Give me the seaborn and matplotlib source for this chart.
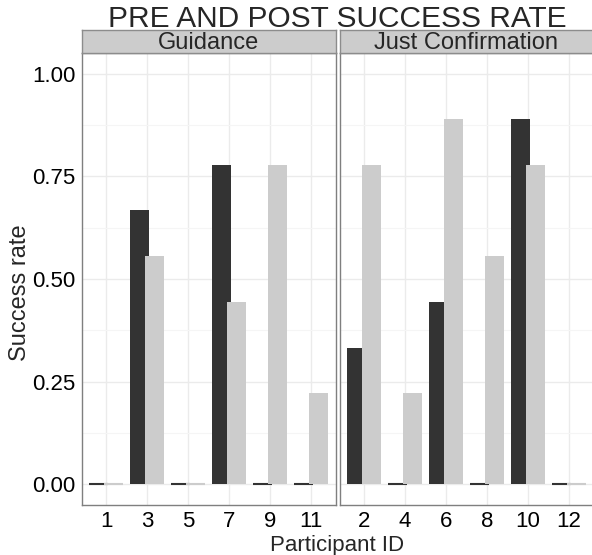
import pandas as pd
import matplotlib.pyplot as plt
from matplotlib.ticker import MultipleLocator
import seaborn as sns

# Values (success rate, multiples of 1/9)
guidance_ids = ['1', '3', '5', '7', '9', '11']
guidance_pre = [0.0, 0.667, 0.0, 0.778, 0.0, 0.0]
guidance_post = [0.0, 0.556, 0.0, 0.444, 0.778, 0.222]

confirm_ids = ['2', '4', '6', '8', '10', '12']
confirm_pre = [0.333, 0.0, 0.444, 0.0, 0.889, 0.0]
confirm_post = [0.778, 0.222, 0.889, 0.556, 0.778, 0.0]

phases = ['Pre', 'Post']
colors = ['#333333', '#CCCCCC']


def make_df(ids, pre, post):
    return pd.DataFrame({'Participant': ids * 2,
                         'Phase': ['Pre'] * len(ids) + ['Post'] * len(ids),
                         'Rate': pre + post})


panels = [('Guidance', make_df(guidance_ids, guidance_pre, guidance_post), guidance_ids),
          ('Just Confirmation', make_df(confirm_ids, confirm_pre, confirm_post), confirm_ids)]

sns.set_style('white')
plt.rcParams['font.family'] = ['Liberation Sans', 'DejaVu Sans']

fig = plt.figure(figsize=(5.92, 5.55), dpi=100)
W, H = 592, 555
bottom, top = 505, 53
ax_w = 254
lefts = [81.5, 339.5]

for i, (name, df, order) in enumerate(panels):
    ax = fig.add_axes([lefts[i] / W, (H - bottom) / H, ax_w / W, (bottom - top) / H])
    sns.barplot(data=df, x='Participant', y='Rate', hue='Phase', order=order,
                hue_order=phases, palette=colors, width=0.76, ax=ax,
                errorbar=None, saturation=1, legend=False, zorder=2)
    # ggplot-style overlapping dodge: widen each bar around its centre
    for p in ax.patches:
        c = p.get_x() + p.get_width() / 2
        p.set_width(0.47)
        p.set_x(c - 0.235)
        if p.get_height() == 0:
            p.set_edgecolor(p.get_facecolor())
            p.set_linewidth(1.5)
        else:
            p.set_linewidth(0)
    ax.set_xlim(-0.6, len(order) - 0.4)
    ax.set_ylim(-0.05, 1.05)
    ax.yaxis.set_major_locator(MultipleLocator(0.25))
    ax.yaxis.set_minor_locator(MultipleLocator(0.125))
    ax.grid(True, which='major', color='#EBEBEB', lw=1.0, zorder=0)
    ax.grid(True, which='minor', axis='y', color='#F5F5F5', lw=0.8, zorder=0)
    ax.set_axisbelow(True)
    for s in ax.spines.values():
        s.set_color('#7F7F7F')
        s.set_linewidth(1.0)
    ax.set_xlabel('')
    ax.set_ylabel('')
    ax.tick_params(axis='both', which='major', length=3, color='#7F7F7F',
                   labelsize=16, labelcolor='black', pad=1.5, width=1)
    ax.tick_params(axis='y', which='minor', length=0)
    if i == 0:
        ax.set_yticks([0, 0.25, 0.5, 0.75, 1.0])
        ax.set_yticklabels(['0.00', '0.25', '0.50', '0.75', '1.00'])
    else:
        ax.tick_params(axis='y', which='major', left=False, labelleft=False)
    # facet strip
    sax = fig.add_axes([lefts[i] / W, (H - top) / H, ax_w / W, 23 / H])
    sax.set_facecolor('#CCCCCC')
    sax.set_xticks([])
    sax.set_yticks([])
    for s in sax.spines.values():
        s.set_color('#8C8C8C')
        s.set_linewidth(1.0)
    sax.text(0.5, 0.45, name, ha='center', va='center', fontsize=17,
             transform=sax.transAxes)

fig.text(337.5 / W, 1 - 27 / H, 'PRE AND POST SUCCESS RATE', ha='center',
         va='baseline', fontsize=21.5)
fig.text(337.5 / W, 1 - 551 / H, 'Participant ID', ha='center', va='baseline',
         fontsize=16)
fig.text(20 / W, 1 - 293 / H, 'Success rate', ha='center', va='center',
         fontsize=17, rotation=90)

fig.savefig('out.png', dpi=100)
